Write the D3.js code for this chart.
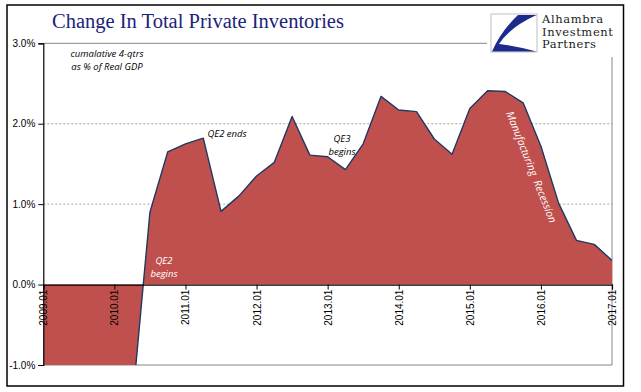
<!DOCTYPE html>
<html>
<head>
<meta charset="utf-8">
<script src="https://cdn.jsdelivr.net/npm/d3@7"></script>
<style>
  body { margin: 0; background: #fff; }
  svg { display: block; }
</style>
</head>
<body>
<div id="chart-area"></div>
<script>
// quarterly data, 2009.01 .. 2017.01
const quarters = []
for (let yr = 2009; yr <= 2017; yr++) {
  for (let q = 1; q <= 4; q++) {
    if (yr === 2017 && q > 1) break
    quarters.push(yr + ".0" + q)
  }
}
// cumulative 4-qtrs change in private inventories, % of real GDP
const values = [
  -2.6, -3.2, -3.4, -2.9, -2.2, -1.5,
  0.90, 1.65, 1.75, 1.82, 0.91, 1.10,
  1.35, 1.52, 2.09, 1.61, 1.59, 1.43,
  1.75, 2.34, 2.17, 2.15, 1.81, 1.62,
  2.19, 2.41, 2.40, 2.26, 1.72, 1.01,
  0.55, 0.50, 0.30
]
const yearTicks = ["2009.01", "2010.01", "2011.01", "2012.01", "2013.01",
  "2014.01", "2015.01", "2016.01", "2017.01"]
const yTicks = [-1, 0, 1, 2, 3]

const W = 641, H = 392
const MARGIN = { LEFT: 43.3, RIGHT: 29, TOP: 43.3, BOTTOM: 27 }
const WIDTH = W - MARGIN.LEFT - MARGIN.RIGHT
const HEIGHT = H - MARGIN.TOP - MARGIN.BOTTOM

const svg = d3.select("#chart-area").append("svg")
  .attr("width", W)
  .attr("height", H)

// outer frame
svg.append("rect")
  .attr("x", 7).attr("y", 5)
  .attr("width", 616.5).attr("height", 381)
  .attr("fill", "#fff")
  .attr("stroke", "#000")
  .attr("stroke-width", 1.5)

const g = svg.append("g")
  .attr("transform", `translate(${MARGIN.LEFT}, ${MARGIN.TOP})`)

const x = d3.scaleLinear()
  .domain([0, quarters.length - 1])
  .range([0, WIDTH])

const y = d3.scaleLinear()
  .domain([-1, 3])
  .range([HEIGHT, 0])

// gridlines
g.selectAll(".grid").data([1, 2]).enter()
  .append("line")
  .attr("class", "grid")
  .attr("x1", 0).attr("x2", WIDTH)
  .attr("y1", d => y(d)).attr("y2", d => y(d))
  .attr("stroke", "#a6a6a6")
  .attr("stroke-dasharray", "2,2")
  .attr("stroke-width", 1)

// plot frame (top, right, bottom)
g.append("path")
  .attr("d", `M0,${y(3)}H${WIDTH}V${y(-1)}H0`)
  .attr("fill", "none")
  .attr("stroke", "#868686")
  .attr("stroke-width", 1)

svg.append("clipPath").attr("id", "plot-clip")
  .append("rect")
  .attr("x", 0).attr("y", 0)
  .attr("width", WIDTH).attr("height", HEIGHT)

const plot = g.append("g").attr("clip-path", "url(#plot-clip)")

const area = d3.area()
  .x((d, i) => x(i))
  .y0(y(0))
  .y1(d => y(d))

const line = d3.line()
  .x((d, i) => x(i))
  .y(d => y(d))

plot.append("path")
  .datum(values)
  .attr("d", area)
  .attr("fill", "#c0504d")

plot.append("path")
  .datum(values)
  .attr("d", line)
  .attr("fill", "none")
  .attr("stroke", "#1f3864")
  .attr("stroke-width", 1.4)
  .attr("stroke-linejoin", "round")

// y axis
const yAxisCall = d3.axisLeft(y)
  .tickValues(yTicks)
  .tickSize(5)
  .tickFormat(d => d.toFixed(1) + "%")
const yAxis = g.append("g")
  .attr("class", "y-axis")
  .call(yAxisCall)
yAxis.select(".domain").attr("stroke", "#000").attr("stroke-width", 1.2)
yAxis.selectAll(".tick line").attr("stroke", "#000")
yAxis.selectAll("text")
  .attr("x", -8)
  .attr("font-family", "Liberation Sans, Arial, sans-serif")
  .attr("font-size", "10px")
  .attr("fill", "#000")

// x axis at zero
const xAxisCall = d3.axisBottom(x)
  .tickValues(yearTicks.map(t => quarters.indexOf(t)))
  .tickSize(5)
  .tickFormat(i => quarters[i])
const xAxis = g.append("g")
  .attr("class", "x-axis")
  .attr("transform", `translate(0, ${y(0)})`)
  .call(xAxisCall)
xAxis.select(".domain").attr("stroke", "#000").attr("stroke-width", 1.2)
xAxis.selectAll(".tick line").attr("stroke", "#000")
xAxis.selectAll("text")
  .attr("y", 0).attr("dy", 0)
  .attr("text-anchor", "end")
  .attr("transform", "translate(3.5, 5) rotate(-90)")
  .attr("font-family", "Liberation Sans, Arial, sans-serif")
  .attr("font-size", "10px")
  .attr("fill", "#000")

// title
svg.append("text")
  .attr("x", 52)
  .attr("y", 28)
  .attr("font-family", "Liberation Serif, serif")
  .attr("font-size", "20.5px")
  .attr("fill", "#1c237a")
  .text("Change In Total Private Inventories")

// annotations
const note = (txt, px, py, color) => svg.append("text")
  .attr("x", px).attr("y", py)
  .attr("text-anchor", "middle")
  .attr("font-family", "Open Sans, sans-serif")
  .attr("font-style", "italic")
  .attr("font-size", "9.5px")
  .attr("fill", color)
  .text(txt)

note("cumalative 4-qtrs", 107, 57, "#000")
note("as % of Real GDP", 107, 70, "#000")
note("QE2 ends", 227, 137, "#000")
note("QE3", 342, 142, "#000")
note("begins", 342, 155, "#000")
note("QE2", 164, 264, "#fff")
note("begins", 164, 277, "#fff")

svg.append("text")
  .attr("transform", "translate(506, 113) rotate(68.3)")
  .attr("font-family", "Open Sans, sans-serif")
  .attr("font-style", "italic")
  .attr("font-size", "10.5px")
  .attr("fill", "#fff")
  .attr("xml:space", "preserve")
  .text("Manufacturing  Recession")

// logo
const logo = svg.append("g")
logo.append("rect")
  .attr("x", 487).attr("y", 7)
  .attr("width", 135).attr("height", 50)
  .attr("fill", "#fff")
logo.append("rect")
  .attr("x", 491).attr("y", 14)
  .attr("width", 46).attr("height", 38)
  .attr("fill", "#fff")
  .attr("stroke", "#b0b0b0")
  .attr("stroke-width", 0.8)
logo.append("path")
  .attr("d", "M518,15 L536.5,15 Q510,27 499,44 Q516,46 536.5,51.5 L492,51.5 Q501,31 518,15 Z")
  .attr("fill", "#1c2a8c")
const logoText = ["Alhambra", "Investment", "Partners"]
logo.selectAll(".logo-t").data(logoText).enter()
  .append("text")
  .attr("class", "logo-t")
  .attr("x", 542)
  .attr("y", (d, i) => 23 + i * 12.5)
  .attr("font-family", "DejaVu Serif, serif")
  .attr("font-size", "11.5px")
  .attr("letter-spacing", "0.6px")
  .attr("fill", "#222")
  .text(d => d)
</script>
</body>
</html>
